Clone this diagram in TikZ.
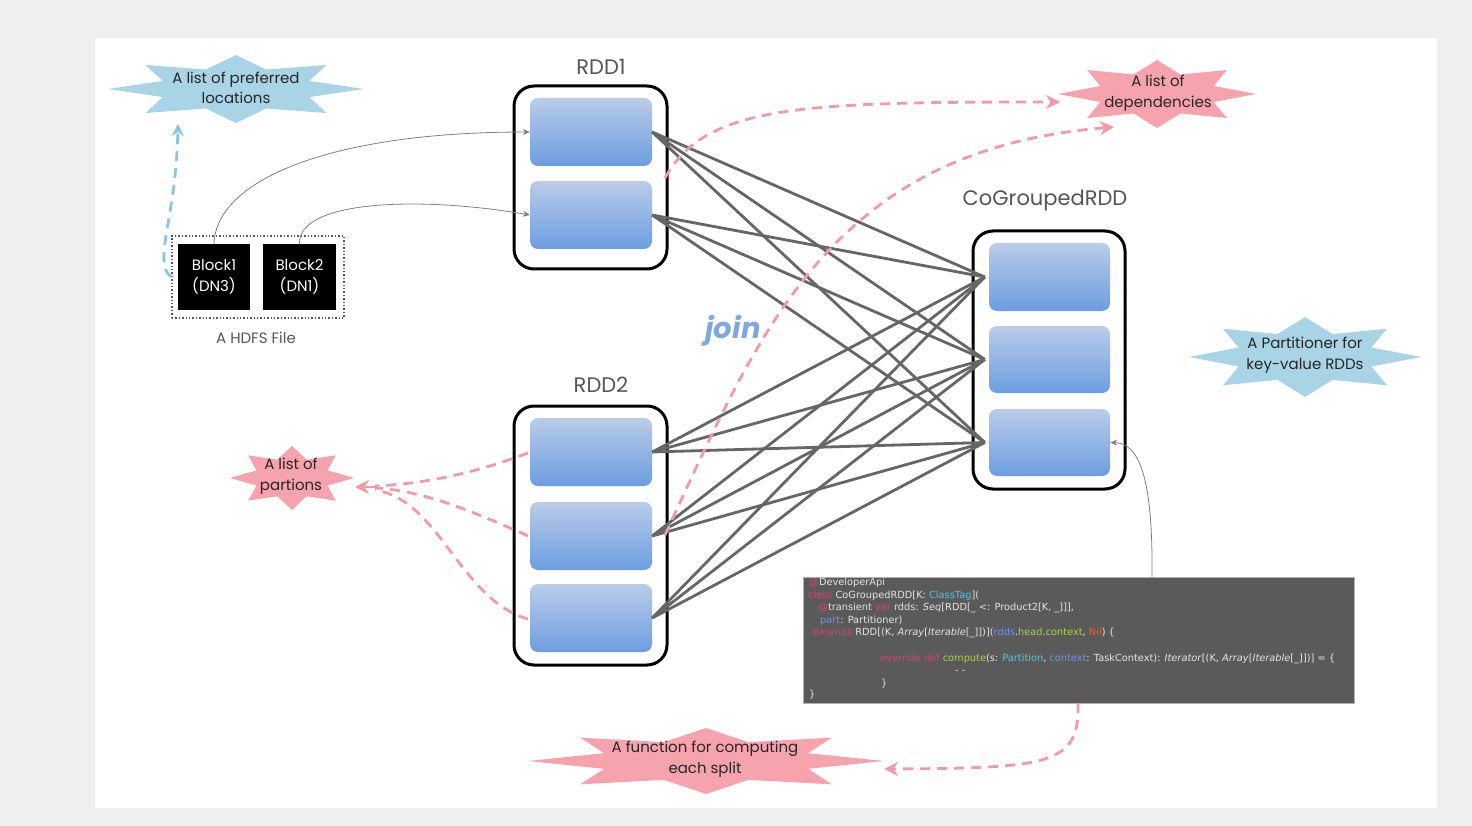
\documentclass[tikz,border=0pt]{standalone}
\usepackage{fontspec}
\setmainfont{Poppins}
\newfontfamily\codefont{DejaVu Sans}
\usetikzlibrary{arrows.meta}
\definecolor{bgout}{HTML}{EFEFEF}
\definecolor{pbtop}{HTML}{BACCE9}
\definecolor{pbbot}{HTML}{6C9DE0}
\definecolor{edgegray}{HTML}{666666}
\definecolor{lblgray}{HTML}{555555}
\definecolor{pinkc}{HTML}{F6A3AE}
\definecolor{pinkd}{HTML}{F29AA6}
\definecolor{skyc}{HTML}{A9D4E6}
\definecolor{skyd}{HTML}{8CC6E0}
\definecolor{joinblue}{HTML}{7FA8DC}
\definecolor{codebg}{HTML}{5A5A5A}
\definecolor{codefg}{HTML}{E4E4E4}
\definecolor{cpink}{HTML}{E23C78}
\definecolor{ccyan}{HTML}{55C6E2}
\definecolor{cblue}{HTML}{6F93EA}
\definecolor{cgreen}{HTML}{A9D63F}
\definecolor{corange}{HTML}{E8602A}
\newcommand\starpoly[5]{%
  \fill[#5] plot[samples at={0,...,15}, variable=\k]
   ({#1+#3*(mod(\k,2)==0?1:0.62)*cos(\k*22.5)}, {#2+#4*(mod(\k,2)==0?1:0.62)*sin(\k*22.5)}) -- cycle;}
\begin{document}
\begin{tikzpicture}[x=1pt,y=-1pt,
  container/.style={draw=black, line width=3pt, rounded corners=20pt, fill=white, minimum width=153pt, inner sep=0pt},
  partbox/.style={rounded corners=8pt, top color=pbtop, bottom color=pbbot, minimum width=122pt, minimum height=68pt, inner sep=0pt},
  rddlabel/.style={text=lblgray, font=\fontsize{21}{24}\selectfont},
  startext/.style={text=black!85, align=center, font=\fontsize{15}{20.5}\selectfont},
  block/.style={fill=black, text=white, align=center, minimum width=72pt, minimum height=66pt, inner sep=0pt, font=\fontsize{15}{20.5}\selectfont},
  edge/.style={draw=edgegray, line width=2.8pt},
  thinarrow/.style={draw=gray, line width=0.8pt, -{Stealth[length=7pt,width=6pt]}},
  pinkdash/.style={draw=pinkd, line width=2.8pt, dash pattern=on 10pt off 7pt, -{Stealth[length=14pt,width=14pt]}},
  pinkdashnt/.style={draw=pinkd, line width=2.8pt, dash pattern=on 10pt off 7pt},
  bluedash/.style={draw=skyd, line width=2.8pt, dash pattern=on 10pt off 7pt, -{Stealth[length=12pt,width=12pt]}},
  codeline/.style={anchor=west, inner sep=0pt, text=codefg, font=\codefont\fontsize{9.8}{11}\selectfont}
]
\useasboundingbox (0,0) rectangle (1472,826);
\fill[bgout] (0,0) rectangle (1472,826);
\fill[white] (95,38) rectangle (1437,808);

% stars
\starpoly{236}{89}{128}{34}{skyc}
\starpoly{1157}{94}{99}{34}{pinkc}
\starpoly{1305}{357}{116}{40}{skyc}
\starpoly{292}{478}{62}{32}{pinkc}
\starpoly{706}{761}{178}{33}{pinkc}
\node[startext] (s1) at (236,88) {A list of preferred\\locations};
\node[startext] (s2) at (1158,93) {A list of\\dependencies};
\node[startext] (s3) at (1305,355) {A Partitioner for\\key-value RDDs};
\node[startext] (s4) at (291,476) {A list of\\partions};
\node[startext] (s5) at (705,759) {A function for computing\\each split};

% containers
\node[container, minimum height=183pt] (rdd1) at (590.5,177.5) {};
\node[container, minimum height=259pt] (rdd2) at (590.5,535.5) {};
\node[container, minimum width=152pt, minimum height=258pt] (cg) at (1049,360) {};
\node[rddlabel] (l1) at (601,67) {RDD1};
\node[rddlabel] (l2) at (601,385) {RDD2};
\node[rddlabel] (l3) at (1045,200) {CoGroupedRDD};

% partitions
\node[partbox] (r1a) at (591,132) {};
\node[partbox] (r1b) at (591,215) {};
\node[partbox] (r2a) at (591,452) {};
\node[partbox] (r2b) at (591,536) {};
\node[partbox] (r2c) at (591,618) {};
\node[partbox, minimum width=121pt] (cga) at (1049.5,277) {};
\node[partbox, minimum width=121pt, minimum height=67pt] (cgb) at (1049.5,359.5) {};
\node[partbox, minimum width=121pt, minimum height=67pt] (cgc) at (1049.5,442.5) {};

% HDFS blocks
\node[draw=lblgray, dotted, line width=1.4pt, minimum width=172pt, minimum height=82pt, inner sep=0pt] (hdfs) at (258,277) {};
\node[block] (b1) at (214,277) {Block1\\(DN3)};
\node[block, minimum width=73pt] (b2) at (299.5,277) {Block2\\(DN1)};
\node[text=lblgray, font=\fontsize{15}{18}\selectfont] (hl) at (256,338) {A HDFS File};

% join label
\node[text=joinblue, font=\fontsize{29}{32}\selectfont\bfseries\itshape] (join) at (733,331) {join};

% coordinates
\coordinate (s1in) at (178,124);
\coordinate (s2in1) at (1060,102);
\coordinate (s2in2) at (1114,127);
\coordinate (s4in) at (355,487);
\coordinate (s5in) at (884,769);
\coordinate (d1) at (665,178);
\coordinate (d2) at (665,535);
\coordinate (l2a) at (528,453);
\coordinate (l2b) at (528,536);
\coordinate (l2c) at (528,619);
\coordinate (codebot) at (1078,703);
\coordinate (codetop) at (1152,577);

% dependency edges
\foreach \s in {r1a,r1b,r2a,r2b,r2c}
  \foreach \t in {cga,cgb,cgc}
    \draw[edge] (\s.east) -- ([xshift=-4pt]\t.west);

% thin gray arrows
\draw[thinarrow] (b1.north) .. controls (216,180) and (330,132) .. (r1a.west);
\draw[thinarrow] (b2.north) .. controls (298,200) and (420,196) .. (r1b.west);

% blue dashed
\draw[bluedash] (hdfs.west) .. controls (152,262) and (176,220) .. (s1in);

% pink dashed
\draw[pinkdash] (d1) .. controls (705,105) and (800,102) .. (s2in1);
\draw[pinkdash] (d2) .. controls (760,330) and (830,150) .. (s2in2);
\draw[pinkdashnt] (l2a) .. controls (470,475) and (420,484) .. (375,486);
\draw[pinkdashnt] (l2b) .. controls (470,510) and (420,490) .. (375,488);
\draw[pinkdashnt] (l2c) .. controls (460,600) and (440,500) .. (375,490);
\draw[pinkdash] (375,487) -- (s4in);

% code box
\node[fill=codebg, draw=gray!60, line width=0.6pt, minimum width=551pt, minimum height=126pt, inner sep=0pt] (code) at (1078.5,640) {};
\node[codeline] (c1) at (809,583) {{\color{cpink}@}DeveloperApi};
\node[codeline] (c2) at (808,596) {{\color{cpink}class} CoGroupedRDD[K: {\color{ccyan}ClassTag}](};
\node[codeline] (c3) at (818,608) {{\color{cpink}@}transient {\color{cpink}var} rdds: \textit{Seq}[RDD[\_ <: Product2[K, \_]]],};
\node[codeline] (c4) at (820,621) {{\color{cblue}part}: Partitioner)};
\node[codeline] (c5) at (813,633) {{\color{cpink}extends} RDD[(K, \textit{Array}[\textit{Iterable}[\_]])]({\color{cblue}rdds}.{\color{cgreen}head}.{\color{cgreen}context}, {\color{corange}Nil}) \{};
\node[codeline] (c6) at (880,659) {{\color{cpink}override def} {\color{cgreen}compute}(s: {\color{ccyan}Partition}, {\color{cblue}context}: TaskContext): \textit{Iterator}[(K, \textit{Array}[\textit{Iterable}[\_]])] = \{};
\node[codeline] (c7) at (955,672) {- -};
\node[codeline] (c8) at (881,684) {\}};
\node[codeline] (c9) at (809,695) {\}};

\draw[pinkdash] (codebot) .. controls (1080,765) and (1050,768) .. (s5in);
\draw[thinarrow] (codetop) .. controls (1153,480) and (1140,443) .. (cgc.east);
\end{tikzpicture}
\end{document}
